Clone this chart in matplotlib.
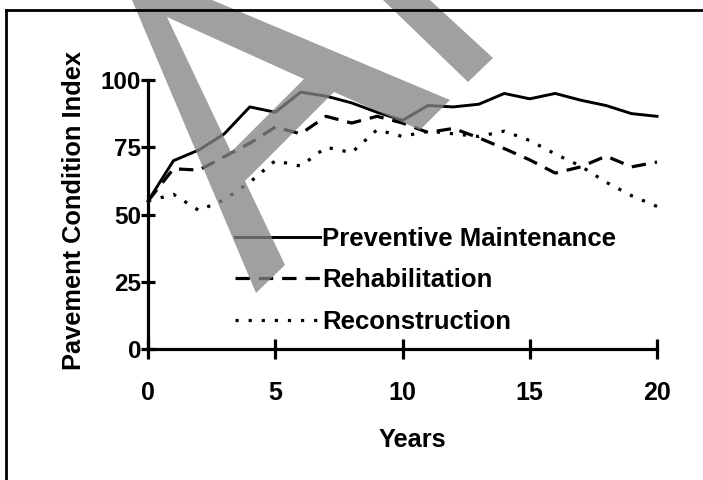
import matplotlib
matplotlib.use("Agg")
import matplotlib.pyplot as plt
from matplotlib.path import Path
from matplotlib.patches import PathPatch, Polygon
from matplotlib.lines import Line2D

years = list(range(0, 21))
preventive = [55, 70, 74, 80, 90, 88, 95.5, 94, 91.5, 88, 85, 90.5, 90, 91, 95, 93, 95, 92.5, 90.5, 87.5, 86.5]
rehabilitation = [55, 67, 66.5, 71.5, 76.5, 82.5, 80, 86.5, 84, 86.5, 84, 80.5, 82, 78.5, 74.5, 70.3, 65.4, 67.7, 71.7, 67.7, 69.5]
reconstruction = [55, 57.5, 51.5, 55.5, 62, 70, 68, 75, 73, 81.5, 79, 81, 80, 79, 81, 77.5, 72.5, 68, 62, 57, 53]
labels = ["Preventive Maintenance", "Rehabilitation", "Reconstruction"]
x_ticks = [0, 5, 10, 15, 20]
y_ticks = [0, 25, 50, 75, 100]

W, H = 703, 480

# grey "A" stamp lying over the scan (picture pixels, y from the top)
stamp_outer = [(132, 0), (212, 0), (450, 100), (420, 130), (334, 92), (245, 181),
               (285, 265), (256, 293)]
stamp_hole = [(167, 17), (231, 152), (304, 79)]
stamp_piece = [(383, 0), (430, 0), (493, 58), (468, 82)]


def to_fig(pts):
    return [(x / W, 1 - y / H) for x, y in pts]


plt.rcParams['font.family'] = ['Liberation Sans', 'DejaVu Sans']
plt.rcParams['font.weight'] = 'bold'

fig = plt.figure(figsize=(W / 100, H / 100), dpi=100)
ax = fig.add_axes([148 / W, 131 / H, 509 / W, 269 / H])

ax.plot(years, preventive, color='black', lw=2.1, clip_on=False, label=labels[0])
ax.plot(years, rehabilitation, color='black', lw=2.3, ls=(0, (4.5, 2.8)), clip_on=False, label=labels[1])
ax.plot(years, reconstruction, color='black', lw=2.3, ls=(0, (1, 3.1)), clip_on=False, label=labels[2])

ax.set_xlim(0, 20)
ax.set_ylim(0, 100)
ax.set_xticks(x_ticks)
ax.set_yticks(y_ticks)
for s in ['top', 'right']:
    ax.spines[s].set_visible(False)
for s in ['left', 'bottom']:
    ax.spines[s].set_linewidth(2.3)
ax.tick_params(axis='x', direction='inout', length=15, width=2.3, pad=15.5, labelsize=18)
ax.tick_params(axis='y', direction='inout', length=10, width=2.3, pad=0, labelsize=17.5)

ax.legend(loc='upper left', bbox_to_anchor=(0.171, 0.455), frameon=False, fontsize=18.5,
          handlelength=3.3, handletextpad=0.1, labelspacing=0.68, borderpad=0, borderaxespad=0)

fig.text(74 / W, 1 - 211 / H, 'Pavement Condition Index', rotation=90, ha='center', va='center', fontsize=18.3)
fig.text(412 / W, 1 - 447 / H, 'Years', ha='center', va='baseline', fontsize=18.3)

# stamp, one path with the hole cut out so the grey is even
outer = to_fig(stamp_outer)
hole = to_fig(stamp_hole)
verts = outer + [outer[0]] + hole + [hole[0]]
codes = ([Path.MOVETO] + [Path.LINETO] * (len(outer) - 1) + [Path.CLOSEPOLY]
         + [Path.MOVETO] + [Path.LINETO] * (len(hole) - 1) + [Path.CLOSEPOLY])
fig.add_artist(PathPatch(Path(verts, codes), transform=fig.transFigure, facecolor='#848484',
                         edgecolor='none', alpha=0.77, zorder=5))
fig.add_artist(Polygon(to_fig(stamp_piece), closed=True, transform=fig.transFigure,
                       facecolor='#848484', edgecolor='none', alpha=0.77, zorder=5))

# frame of the scanned page: left and top edges only
fig.add_artist(Line2D([6.3 / W, 6.3 / W], [0, 1 - 10 / H], transform=fig.transFigure,
                      color='black', lw=2, zorder=6))
fig.add_artist(Line2D([6.3 / W, 1], [1 - 10 / H, 1 - 10 / H], transform=fig.transFigure,
                      color='black', lw=2, zorder=6))

fig.savefig('out.png', dpi=100)
